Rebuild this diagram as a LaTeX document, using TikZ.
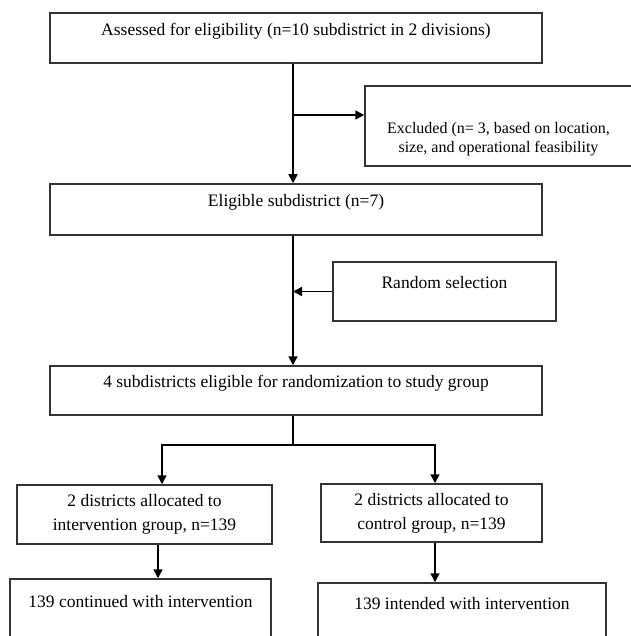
\documentclass[tikz,border=0pt]{standalone}
\usepackage{fontspec}
\setmainfont{Liberation Serif}
\usetikzlibrary{arrows.meta}

\begin{document}
\begin{tikzpicture}[x=1pt, y=-1pt,
    font=\fontsize{17.5}{24}\selectfont,
    box/.style={draw=black!80, line width=1.5pt, inner sep=0pt, align=center},
    oneline/.style={box, text height=13pt, text depth=#1},
    arr/.style={line width=1.5pt, -{Triangle[length=9pt,width=9pt]}}]
    \useasboundingbox (0,0) rectangle (630,636);

    % Boxes
    \node[oneline=18pt, minimum width=492pt, minimum height=50pt] (assess) at (296,38)
        {Assessed for eligibility (n=10 subdistrict in 2 divisions)};
    \node[box, text height=53pt, text depth=0pt, minimum width=267pt, minimum height=80pt,
        font=\fontsize{16}{19}\selectfont] (excl) at (498.5,126)
        {Excluded (n= 3, based on location,\\ size, and operational feasibility};
    \node[oneline=19pt, minimum width=492pt, minimum height=51pt] (elig) at (296,209.5)
        {Eligible subdistrict (n=7)};
    \node[oneline=19pt, minimum width=223pt, minimum height=59pt] (rand) at (444.5,291.5)
        {Random selection};
    \node[oneline=19pt, minimum width=492pt, minimum height=49pt] (sub4) at (296,390.5)
        {4 subdistricts eligible for randomization to study group};
    \node[box, minimum width=255pt, minimum height=59pt] (intv) at (144.5,514.5)
        {2 districts allocated to\\ intervention group, n=139};
    \node[box, minimum width=221pt, minimum height=58pt] (ctrl) at (431.5,513)
        {2 districts allocated to\\ control group, n=139};
    \node[oneline=36pt, minimum width=261pt, minimum height=80pt] (contl) at (140.5,619)
        {139 continued with intervention};
    \node[oneline=40pt, minimum width=288pt, minimum height=80pt] (contr) at (462,623)
        {139 intended with intervention};

    % Spine
    \coordinate (spine) at (293,0);
    \coordinate (exclin) at ([yshift=11pt]excl.west);
    \draw[arr] (assess.south -| spine) -- (elig.north -| spine);
    \draw[arr] (spine |- exclin) -- (exclin);
    \draw[arr] (elig.south -| spine) -- (sub4.north -| spine);
    \draw[arr] (rand.west) -- (spine |- rand.west);

    % Split into groups
    \coordinate (fork) at (293,445);
    \coordinate (lbranch) at (162,445);
    \coordinate (rbranch) at (435,445);
    \draw[line width=1.5pt] (sub4.south -| spine) -- (fork);
    \draw[arr] (fork) -- (lbranch) -- (lbranch |- intv.north);
    \draw[arr] (fork) -- (rbranch) -- (rbranch |- ctrl.north);

    % Follow-up
    \coordinate (lcol) at (158,0);
    \coordinate (rcol) at (435,0);
    \draw[arr] (intv.south -| lcol) -- (contl.north -| lcol);
    \draw[arr] (ctrl.south -| rcol) -- (contr.north -| rcol);
\end{tikzpicture}
\end{document}
